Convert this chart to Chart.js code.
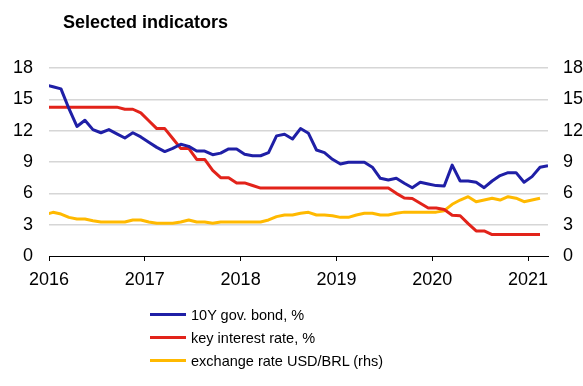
<!DOCTYPE html>
<html>
<head>
<meta charset="utf-8">
<script src="https://cdn.jsdelivr.net/npm/chart.js@4/dist/chart.umd.min.js"></script>
<style>
html, body { margin: 0; padding: 0; background: #fff; overflow: hidden; }
#wrap { position: relative; width: 583px; height: 386px; overflow: hidden; }
#title { position: absolute; left: 63px; top: 11px; font: bold 18px "Liberation Sans", Arial, sans-serif; line-height: 22px; color: #000; }
#box { position: absolute; left: 0; top: 0; width: 620px; height: 386px; }
#legend { position: absolute; left: 150px; top: 303px; font: 14.5px "Liberation Sans", Arial, sans-serif; color: #000; }
.item { height: 23px; display: flex; align-items: center; }
.swatch { width: 36px; height: 3px; margin-right: 5px; }
</style>
</head>
<body>
<div id="wrap">
  <div id="box"><canvas id="myChart" width="620" height="386"></canvas></div>
  <div id="title">Selected indicators</div>
  <div id="legend"></div>
</div>
<script>
/*-----data: monthly, first point is Dec 2015-----*/
var startYear = 2015,
    startMonth = 12;
var yearLabels = ['2016', '2017', '2018', '2019', '2020', '2021'];
var yTicks = [0, 3, 6, 9, 12, 15, 18];

var bond10y = [16.4, 16.2, 16.0, 14.1, 12.4, 13.0, 12.1, 11.8, 12.1, 11.7, 11.3, 11.8, 11.4,
    10.9, 10.4, 10.0, 10.3, 10.7, 10.5, 10.05, 10.05, 9.7, 9.85, 10.25, 10.25,
    9.75, 9.6, 9.6, 9.9, 11.5, 11.65, 11.2, 12.2, 11.75, 10.15, 9.9, 9.26,
    8.8, 8.97, 8.97, 8.97, 8.5, 7.44, 7.28, 7.44, 6.96, 6.54, 7.06, 6.9,
    6.74, 6.7, 8.7, 7.18, 7.18, 7.06, 6.54, 7.18, 7.7, 7.98, 7.98, 7.06,
    7.6, 8.5, 8.65];

var keyRate = [14.25, 14.25, 14.25, 14.25, 14.25, 14.25, 14.25, 14.25, 14.25, 14.25, 14.05, 14.05, 13.7,
    12.95, 12.2, 12.2, 11.25, 10.3, 10.3, 9.25, 9.25, 8.2, 7.5, 7.5, 7.0,
    7.0, 6.75, 6.5, 6.5, 6.5, 6.5, 6.5, 6.5, 6.5, 6.5, 6.5, 6.5,
    6.5, 6.5, 6.5, 6.5, 6.5, 6.5, 6.5, 6.0, 5.55, 5.5, 5.05, 4.6,
    4.6, 4.45, 3.9, 3.85, 3.1, 2.4, 2.4, 2.05, 2.05, 2.05, 2.05, 2.05,
    2.05, 2.05];

var usdBrl = [3.95, 4.18, 4.02, 3.7, 3.54, 3.54, 3.38, 3.26, 3.26, 3.26, 3.26, 3.45, 3.45,
    3.26, 3.13, 3.13, 3.13, 3.26, 3.45, 3.26, 3.26, 3.13, 3.26, 3.26, 3.26,
    3.26, 3.26, 3.26, 3.45, 3.77, 3.93, 3.93, 4.09, 4.18, 3.93, 3.93, 3.86,
    3.7, 3.7, 3.93, 4.09, 4.09, 3.93, 3.93, 4.09, 4.2, 4.2, 4.2, 4.2,
    4.2, 4.34, 4.95, 5.36, 5.68, 5.2, 5.36, 5.53, 5.36, 5.68, 5.53, 5.2,
    5.36, 5.53];

var seriesNames = ['10Y gov. bond, %', 'key interest rate, %', 'exchange rate USD/BRL (rhs)'];
var seriesColors = ['#1f1fa6', '#e2231a', '#ffb900'];

// month index -> decimal year (mid-month)
function toPoints(arr) {
    var pts = [];
    for (var i = 0; i < arr.length; i++) {
        pts.push({ x: startYear + (startMonth - 1 + i + 0.5) / 12, y: arr[i] });
    }
    return pts;
}

Chart.defaults.font.family = "'Liberation Sans', Arial, sans-serif";
Chart.defaults.color = '#000';

var lineOpts = { borderWidth: 3, pointRadius: 0, tension: 0, borderJoinStyle: 'round', fill: false };

var ctx = document.getElementById('myChart').getContext('2d');
var myChart = new Chart(ctx, {
    type: 'line',
    data: {
        datasets: [
            Object.assign({ label: seriesNames[0], data: toPoints(bond10y), borderColor: seriesColors[0], yAxisID: 'y' }, lineOpts),
            Object.assign({ label: seriesNames[1], data: toPoints(keyRate), borderColor: seriesColors[1], yAxisID: 'y' }, lineOpts),
            Object.assign({ label: seriesNames[2], data: toPoints(usdBrl), borderColor: seriesColors[2], yAxisID: 'y2' }, lineOpts)
        ]
    },
    options: {
        responsive: false,
        animation: false,
        layout: { padding: { top: 68, bottom: 100, left: 0, right: 0 } },
        plugins: { legend: { display: false }, tooltip: { enabled: false } },
        scales: {
            x: {
                type: 'linear',
                min: 2016,
                max: 2016 + 62.5 / 12,
                afterBuildTicks: function(s) {
                    s.ticks = yearLabels.map(function(y) { return { value: +y }; });
                },
                afterFit: function(s) { s.height = 30; },
                ticks: {
                    font: { size: 18 },
                    padding: 8,
                    maxRotation: 0,
                    callback: function(v) { return String(v); }
                },
                grid: { drawOnChartArea: false, drawTicks: true, tickLength: 5, color: '#000', lineWidth: 1 },
                border: { display: true, color: '#000', width: 1 }
            },
            y: {
                position: 'left',
                min: 0,
                max: 18,
                afterBuildTicks: function(s) {
                    s.ticks = yTicks.map(function(v) { return { value: v }; });
                },
                afterFit: function(s) { s.width = 49; },
                ticks: { font: { size: 18 }, padding: 16 },
                grid: {
                    drawTicks: false,
                    lineWidth: 1.5,
                    color: function(c) { return c.tick && c.tick.value === 0 ? 'rgba(0,0,0,0)' : '#d6d6d6'; }
                },
                border: { display: false }
            },
            y2: {
                position: 'right',
                min: 0,
                max: 18,
                afterBuildTicks: function(s) {
                    s.ticks = yTicks.map(function(v) { return { value: v }; });
                },
                afterFit: function(s) { s.width = 72; },
                ticks: { font: { size: 18 }, padding: 15 },
                grid: { drawOnChartArea: false, drawTicks: false },
                border: { display: false }
            }
        }
    }
});

/*------legend------*/
var legendHtml = '';
for (var i = 0; i < myChart.data.datasets.length; i++) {
    var ds = myChart.data.datasets[i];
    legendHtml += "<div class='item'><span class='swatch' style='background:" + ds.borderColor + "'></span>" + ds.label + "</div>";
}
document.getElementById('legend').innerHTML = legendHtml;
</script>
</body>
</html>
